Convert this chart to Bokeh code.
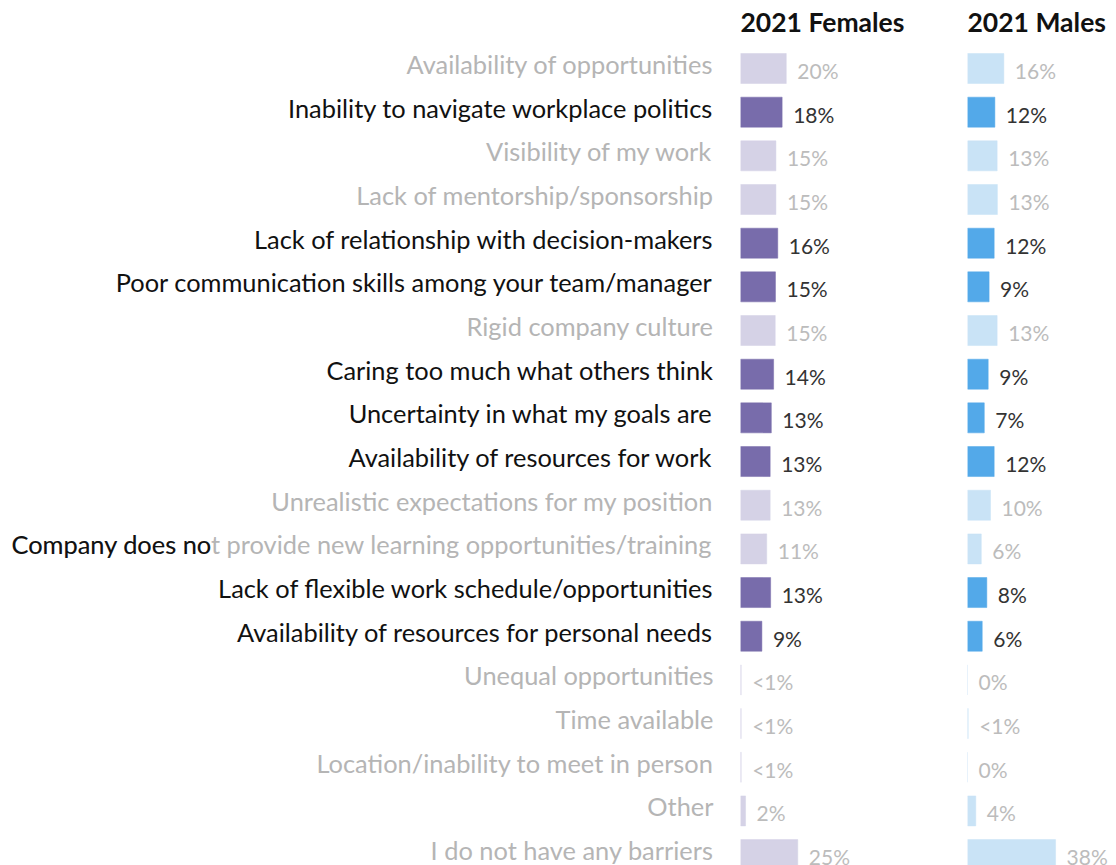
from bokeh.plotting import figure
from bokeh.layouts import row
from bokeh.models import Range1d, ColumnDataSource
from bokeh.core.properties import value
from bokeh.embed import file_html
from bokeh.resources import INLINE

# ---------------- data ----------------
categories = [
    "Availability of opportunities",
    "Inability to navigate workplace politics",
    "Visibility of my work",
    "Lack of mentorship/sponsorship",
    "Lack of relationship with decision-makers",
    "Poor communication skills among your team/manager",
    "Rigid company culture",
    "Caring too much what others think",
    "Uncertainty in what my goals are",
    "Availability of resources for work",
    "Unrealistic expectations for my position",
    "Company does not provide new learning opportunities/training",
    "Lack of flexible work schedule/opportunities",
    "Availability of resources for personal needs",
    "Unequal opportunities",
    "Time available",
    "Location/inability to meet in person",
    "Other",
    "I do not have any barriers",
]
highlight = [0, 1, 0, 0, 1, 1, 0, 1, 1, 1, 0, 0, 1, 1, 0, 0, 0, 0, 0]
females = [19.9, 18.1, 15.4, 15.4, 16.2, 15.2, 15.1, 14.4, 13.4, 12.9, 12.9, 11.4, 13.1, 9.3, 0.3, 0.3, 0.3, 2.2, 24.9]
males = [15.8, 11.9, 12.9, 13.0, 11.6, 9.4, 12.9, 9.0, 7.3, 11.6, 10.0, 6.0, 8.4, 6.4, 0.0, 0.3, 0.0, 3.6, 38.3]
headers = ["2021 Females", "2021 Males"]
split_prefix = "Company does no"   # part of row 12 label shown in black

FONT = value("Lato")
H = 865
n = len(categories)
idx = list(range(n))


def fmt(v):
    if v == 0:
        return "0%"
    if v < 1:
        return "<1%"
    return f"{int(v + 0.5)}%"


y_range = Range1d(start=18.25, end=-1.557)


def base(w, xr):
    p = figure(width=w, height=H, x_range=xr, y_range=y_range,
               output_backend="svg", toolbar_location=None,
               x_axis_location=None, y_axis_location=None,
               min_border=0, min_border_left=0, min_border_right=0,
               min_border_top=0, min_border_bottom=0)
    p.grid.visible = False
    p.outline_line_color = None
    p.background_fill_color = "white"
    p.border_fill_color = "white"
    return p


# ---------------- labels panel ----------------
LFS = "25.4px"
LOFF = -4.5
lab = base(740, Range1d(0, 740))
normal_rows = [i for i in idx if i != 11]
lab_src = ColumnDataSource(dict(
    y=normal_rows,
    text=[categories[i] for i in normal_rows],
    color=["#111111" if highlight[i] else "#b5b5b5" for i in normal_rows],
))
lab.text(x=713, y="y", text="text", text_color="color", source=lab_src,
         text_font=FONT, text_font_size=LFS, text_align="right",
         text_baseline="middle", y_offset=LOFF)
# the split row
lab.text(x=[11], y=[11], text=[categories[11]], text_color="#b5b5b5",
         text_font=FONT, text_font_size=LFS, text_align="left",
         text_baseline="middle", y_offset=LOFF)
lab.text(x=[11], y=[11], text=[split_prefix], text_color="#111111",
         text_font=FONT, text_font_size=LFS, text_align="left",
         text_baseline="middle", y_offset=LOFF)


def panel(w, scale, vals, dark, light, title):
    p = base(w, Range1d(0, w / scale))
    src = ColumnDataSource(dict(
        y=idx, v=vals,
        fill=[dark if h else light for h in highlight],
        lab=[fmt(v) for v in vals],
        tc=["#333333" if h else "#bcbcbc" for h in highlight],
    ))
    p.hbar(y="y", left=0, right="v", height=0.687, fill_color="fill",
           line_color="fill", line_width=0.5, source=src)
    p.text(x="v", y="y", text="lab", text_color="tc", source=src,
           x_offset=11, y_offset=2, text_font=FONT, text_font_size="21px",
           text_baseline="middle", text_align="left")
    p.text(x=[0], y=[-1.075], text=[title], text_color="#111111",
           text_font=FONT, text_font_size="26.5px", text_font_style="bold",
           text_baseline="middle", text_align="left")
    return p


fem = panel(227, 2.3, females, "#786cab", "#d5d2e6", headers[0])
mal = panel(149, 2.3, males, "#53a9e9", "#c9e3f6", headers[1])

layout = row(lab, fem, mal, spacing=0)
open("out.html", "w").write(file_html(layout, INLINE))
